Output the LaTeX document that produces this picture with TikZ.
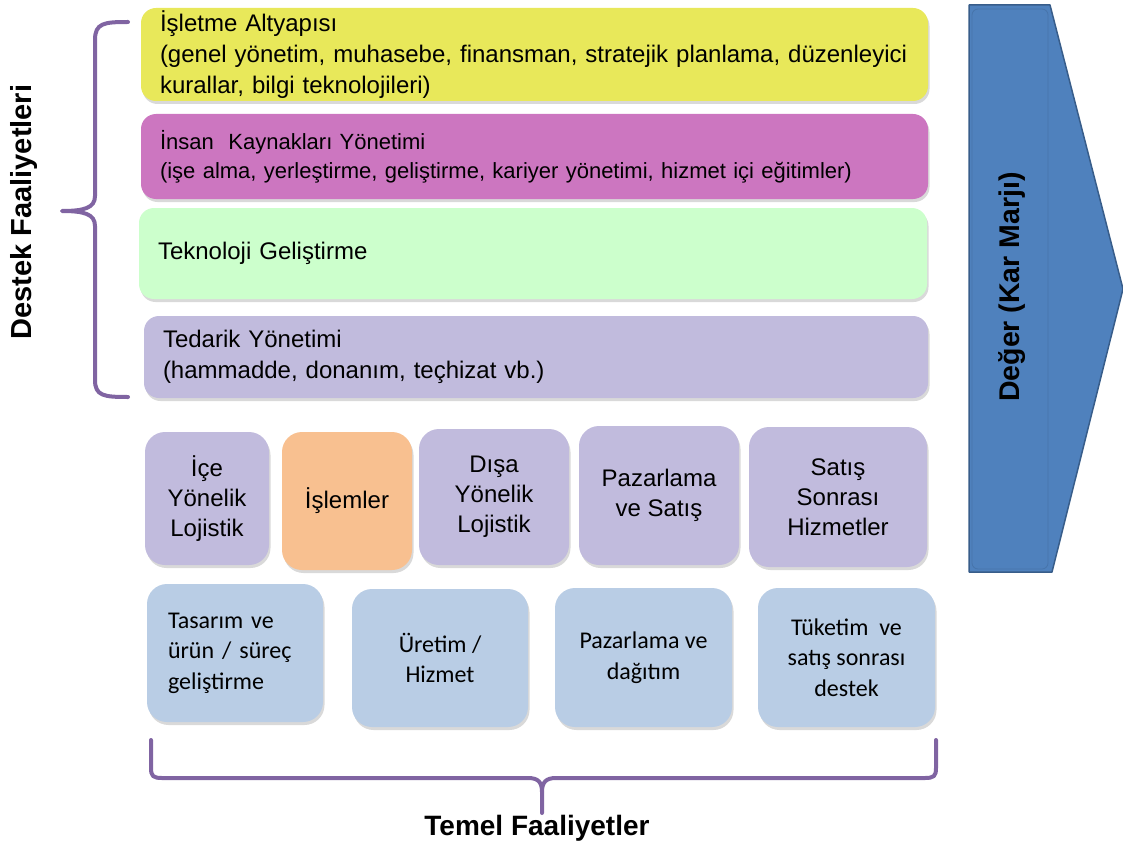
\documentclass[tikz,border=0pt]{standalone}
\usepackage{fontspec}
\setmainfont{Liberation Sans}
\newfontfamily\calibri{Carlito}
\usetikzlibrary{shadows}

\definecolor{sari}{RGB}{232,232,90}
\definecolor{pembe}{RGB}{204,118,192}
\definecolor{yesil}{RGB}{204,255,204}
\definecolor{lila}{RGB}{193,187,221}
\definecolor{turuncu}{RGB}{248,192,144}
\definecolor{acikmavi}{RGB}{185,205,229}
\definecolor{okmavi}{RGB}{79,129,189}
\definecolor{okkenar}{RGB}{56,93,138}
\definecolor{mor}{RGB}{128,100,162}

\begin{document}
\begin{tikzpicture}[x=1pt, y=-1pt,
    kutu/.style={rounded corners=15pt, drop shadow={opacity=0.3, shadow xshift=1.5pt, shadow yshift=-3pt}},
    destekkutu/.style={kutu, inner xsep=19pt, inner ysep=0pt, align=left, font=\fontsize{24}{31}\selectfont},
    temelkutu/.style={kutu, rounded corners=20pt, inner sep=0pt, align=center, fill=lila, font=\fontsize{24}{30}\selectfont},
    altkutu/.style={kutu, rounded corners=20pt, inner sep=0pt, align=center, fill=acikmavi, font=\calibri\fontsize{24}{30.5}\selectfont},
    parantez/.style={draw=mor, line width=4pt, line cap=round, line join=round}]
\useasboundingbox (0,0) rectangle (1123,845);

% destek faaliyetleri
\node[destekkutu, fill=sari, text width=749pt, minimum height=93pt] (altyapi) at (534.5,54.5)
  {İşletme Altyapısı\\(genel yönetim, muhasebe, finansman, stratejik planlama, düzenleyici\\kurallar, bilgi teknolojileri)};
\node[destekkutu, fill=pembe, text width=749pt, minimum height=85pt, font=\fontsize{22}{29}\selectfont] (insan) at (534.5,156.5)
  {İnsan\ \ Kaynakları Yönetimi\\(işe alma,\ yerleştirme,\ geliştirme,\ kariyer yönetimi,\ hizmet içi eğitimler)};
\node[destekkutu, fill=yesil, text width=750pt, minimum height=91pt] (teknoloji) at (533,253.5)
  {Teknoloji Geliştirme};
\node[destekkutu, fill=lila, text width=746pt, minimum height=82pt] (tedarik) at (536,357)
  {Tedarik Yönetimi\\(hammadde, donanım, teçhizat vb.)};

% temel faaliyetler
\node[temelkutu, minimum width=124pt, minimum height=133pt] (ice) at (207,498.5) {İçe\\Yönelik\\Lojistik};
\node[temelkutu, fill=turuncu, minimum width=130pt, minimum height=138pt] (islemler) at (347,501) {İşlemler};
\node[temelkutu, minimum width=150pt, minimum height=136pt] (disa) at (494,497) {Dışa\\Yönelik\\Lojistik};
\node[temelkutu, minimum width=160pt, minimum height=139pt] (pazarlama) at (659,495.5) {Pazarlama\\ve Satış};
\node[temelkutu, minimum width=178pt, minimum height=140pt] (satis) at (838,497) {Satış\\Sonrası\\Hizmetler};

\node[altkutu, align=left, inner xsep=21pt, text width=134pt, minimum height=138pt] (tasarim) at (235,653)
  {Tasarım ve\\ürün / süreç\\geliştirme};
\node[altkutu, minimum width=176pt, minimum height=138pt] (uretim) at (440,658) {Üretim /\\Hizmet};
\node[altkutu, minimum width=177pt, minimum height=139pt] (dagitim) at (643.5,657.5) {Pazarlama ve\\dağıtım};
\node[altkutu, minimum width=177pt, minimum height=139pt] (tuketim) at (846.5,657.5) {Tüketim\ \ ve\\satış sonrası\\destek};

% deger oku
\draw[fill=okmavi, draw=okkenar, line width=1.5pt, line join=round]
  (969,5) -- (1050,5) -- (1123,289) -- (1052,572) -- (969,572) -- cycle;
\draw[draw=okkenar!35!okmavi, line width=0.8pt, rounded corners=6pt] (972,9) rectangle (1048,569);
\node[rotate=90, font=\bfseries\fontsize{28.5}{30}\selectfont] (deger) at (1012,287) {Değer (Kar Marjı)};

% parantezler
\draw[parantez] (128,22) .. controls (104,22) and (95,23) .. (95,40) -- (95,196)
  .. controls (95,208) and (84,211) .. (62,211) .. controls (84,211) and (95,214) .. (95,226)
  -- (95,380) .. controls (95,396) and (104,397) .. (128,397);
\node[rotate=90, font=\bfseries\fontsize{29}{30}\selectfont] (destek) at (24,212) {Destek Faaliyetleri};

\draw[parantez] (151,740) -- (151,768) .. controls (151,776) and (153,778) .. (162,778)
  -- (528,778) .. controls (538,778) and (542,782) .. (542,792) -- (542,813);
\draw[parantez] (936,740) -- (936,768) .. controls (936,776) and (934,778) .. (925,778)
  -- (556,778) .. controls (546,778) and (542,782) .. (542,792);
\node[font=\bfseries\fontsize{28}{30}\selectfont] (temel) at (537,828) {Temel Faaliyetler};
\end{tikzpicture}
\end{document}
